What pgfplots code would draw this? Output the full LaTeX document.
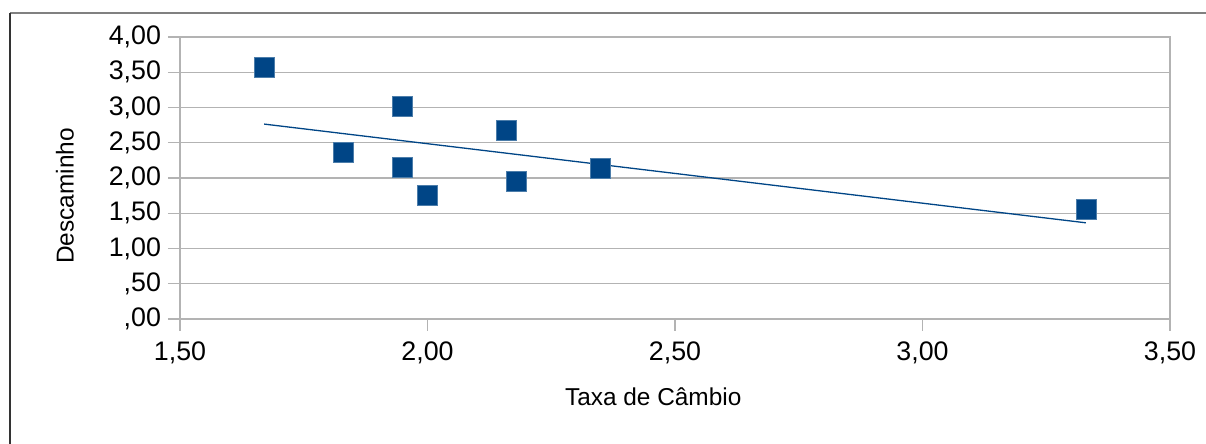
\documentclass[border=0pt]{standalone}
\usepackage{pgfplots}
\usepackage{pgfplotstable}
\pgfplotsset{compat=1.18}
\usepackage{fontspec}
\setmainfont{Liberation Sans}
\definecolor{lobblue}{HTML}{004586}
\definecolor{gridgray}{HTML}{B3B3B3}
\pgfplotstableread{
x y
1.67 3.57
1.83 2.36
1.95 3.02
1.95 2.15
2.00 1.75
2.16 2.68
2.18 1.95
2.35 2.14
3.33 1.56
}\datatab
\begin{document}
\begin{tikzpicture}
\begin{axis}[
  at={(0,0)}, anchor=south west,
  scale only axis, width=495pt, height=141pt,
  xmin=1.5, xmax=3.5, ymin=0, ymax=4,
  xtick={1.5,2,2.5,3,3.5},
  xticklabels={{1,50},{2,00},{2,50},{3,00},{3,50}},
  ytick={0,0.5,1,1.5,2,2.5,3,3.5,4},
  yticklabels={{,00},{,50},{1,00},{1,50},{2,00},{2,50},{3,00},{3,50},{4,00}},
  tick align=outside,
  major tick length=6pt,
  tick style={gridgray, line width=0.7pt},
  xtick pos=bottom, ytick pos=left,
  axis line style={gridgray, line width=0.7pt},
  ymajorgrids, grid style={gridgray, line width=0.7pt},
  tick label style={font=\fontsize{13.4}{15}\selectfont, text=black},
  xticklabel style={yshift=-1.8pt},
  xlabel={Taxa de Câmbio}, ylabel={Descaminho},
  label style={font=\fontsize{12.2}{14}\selectfont},
  x label style={at={(axis description cs:0.478,-0.277)}, anchor=center},
  y label style={at={(axis description cs:-0.1162,0.436)}, anchor=center, rotate=0},
  clip=false,
]
\addplot[only marks, mark=square*, mark size=5pt,
  mark options={fill=lobblue, draw=lobblue!70!white, line width=0.3pt}]
  table[x=x, y=y] {\datatab};
\addplot[lobblue, line width=0.65pt, no marks]
  table[x=x, y={create col/linear regression={y=y}}] {\datatab};
\end{axis}
\draw[gray, line width=0.75pt] (-85pt,153pt) -- (520pt,153pt);
\draw[black!80, line width=0.75pt] (-85pt,153pt) -- (-85pt,-70pt);
\pgfresetboundingbox
\path[use as bounding box] (-90pt,-62.5pt) rectangle (513pt,159.5pt);
\end{tikzpicture}
\end{document}
